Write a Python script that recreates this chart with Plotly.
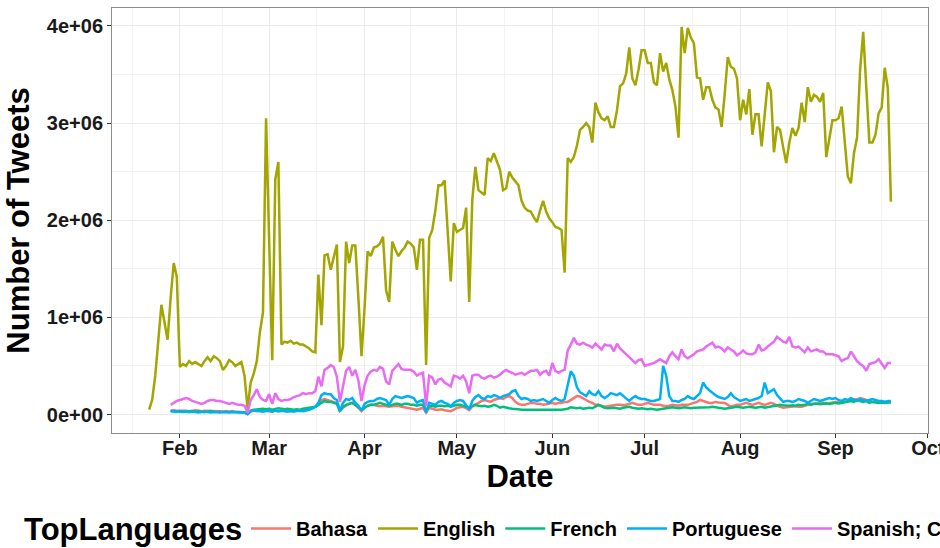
import numpy as np
import pandas as pd
import plotly.graph_objects as go

# Daily tweet counts, in millions of tweets
english_start = "2020-01-22"
english = [
    0.05, 0.15, 0.40, 0.75, 1.13, 0.95, 0.77, 1.20, 1.56, 1.42,
    0.49, 0.52, 0.50, 0.55, 0.52, 0.54, 0.52, 0.50, 0.55, 0.59,
    0.55, 0.60, 0.58, 0.55, 0.46, 0.50, 0.56, 0.54, 0.50, 0.52,
    0.54, 0.40, 0.06, 0.33, 0.42, 0.55, 0.85, 1.05, 3.05, 1.80,
    0.56, 2.42, 2.60, 0.72, 0.75, 0.74, 0.76, 0.73, 0.74, 0.72,
    0.72, 0.70, 0.68, 0.65, 0.64, 1.44, 0.92, 1.64, 1.65, 1.49,
    1.62, 1.75, 0.54, 0.70, 1.78, 1.56, 1.74, 1.74, 1.20, 0.60,
    1.10, 1.68, 1.63, 1.72, 1.73, 1.76, 1.83, 1.28, 1.16, 1.78,
    1.70, 1.63, 1.68, 1.72, 1.78, 1.76, 1.72, 1.49, 1.80, 1.80,
    0.51, 1.82, 1.90, 2.10, 2.36, 2.36, 2.41, 1.90, 1.37, 1.97,
    1.88, 1.90, 1.92, 2.13, 1.16, 2.21, 2.55, 2.31, 2.28, 2.26,
    2.64, 2.61, 2.69, 2.60, 2.52, 2.31, 2.33, 2.50, 2.44, 2.40,
    2.36, 2.20, 2.13, 2.10, 2.09, 2.03, 1.98, 2.10, 2.20, 2.09,
    2.02, 1.98, 1.93, 1.92, 1.90, 1.46, 2.64, 2.60, 2.65, 2.77,
    2.93, 2.96, 3.00, 2.96, 2.80, 3.21, 3.11, 3.05, 3.03, 3.07,
    2.96, 2.96, 3.13, 3.38, 3.41, 3.51, 3.78, 3.46, 3.39, 3.55,
    3.75, 3.75, 3.62, 3.62, 3.42, 3.39, 3.72, 3.53, 3.62, 3.45,
    3.34, 3.17, 2.85, 3.99, 3.72, 3.98, 3.88, 3.82, 3.47, 3.46,
    3.24, 3.37, 3.37, 3.24, 3.16, 3.14, 2.96, 3.30, 3.68, 3.58,
    3.56, 3.46, 3.03, 3.24, 3.09, 3.35, 2.88, 3.09, 3.09, 2.76,
    3.10, 3.42, 3.33, 2.70, 2.96, 2.93, 2.75, 2.59, 2.80, 2.95,
    2.87, 2.95, 3.21, 3.01, 3.37, 3.22, 3.29, 3.27, 3.22, 3.31,
    2.65, 2.86, 3.03, 3.03, 3.05, 3.17, 2.80, 2.45, 2.38, 2.69,
    2.85, 3.55, 3.94, 3.31, 2.80, 2.80, 2.88, 3.10, 3.16, 3.57,
    3.36, 2.19,
]

others_start = "2020-01-29"
spanish = [
    0.10, 0.12, 0.14, 0.15, 0.16, 0.17, 0.16, 0.14, 0.13, 0.12,
    0.11, 0.12, 0.14, 0.15, 0.15, 0.14, 0.14, 0.13, 0.12, 0.11,
    0.12, 0.11, 0.10, 0.10, 0.09, 0.02, 0.15, 0.20, 0.26, 0.18,
    0.15, 0.14, 0.21, 0.11, 0.22, 0.16, 0.14, 0.15, 0.15, 0.16,
    0.18, 0.19, 0.20, 0.22, 0.21, 0.22, 0.22, 0.24, 0.39, 0.29,
    0.46, 0.48, 0.51, 0.49, 0.39, 0.13, 0.30, 0.45, 0.49, 0.40,
    0.46, 0.35, 0.14, 0.30, 0.40, 0.44, 0.46, 0.45, 0.49, 0.47,
    0.34, 0.31, 0.45, 0.48, 0.52, 0.47, 0.46, 0.46, 0.46, 0.44,
    0.40, 0.42, 0.43, 0.09, 0.40, 0.38, 0.31, 0.36, 0.37, 0.33,
    0.31, 0.29, 0.40, 0.39, 0.37, 0.40, 0.34, 0.22, 0.40, 0.41,
    0.41, 0.38, 0.37, 0.39, 0.40, 0.38, 0.39, 0.41, 0.44, 0.46,
    0.44, 0.43, 0.41, 0.42, 0.43, 0.41, 0.43, 0.45, 0.45, 0.46,
    0.41, 0.44, 0.45, 0.40, 0.53, 0.45, 0.43, 0.45, 0.46, 0.66,
    0.72, 0.79, 0.73, 0.72, 0.74, 0.72, 0.71, 0.69, 0.73, 0.70,
    0.67, 0.72, 0.71, 0.71, 0.65, 0.73, 0.68, 0.65, 0.62, 0.58,
    0.55, 0.53, 0.56, 0.57, 0.50, 0.51, 0.52, 0.53, 0.55, 0.57,
    0.55, 0.53, 0.60, 0.64, 0.60, 0.57, 0.67, 0.60, 0.58, 0.60,
    0.62, 0.65, 0.66, 0.67, 0.70, 0.72, 0.74, 0.69, 0.70, 0.68,
    0.65, 0.69, 0.67, 0.65, 0.61, 0.63, 0.66, 0.63, 0.62, 0.62,
    0.64, 0.72, 0.66, 0.67, 0.70, 0.73, 0.75, 0.80, 0.77, 0.75,
    0.74, 0.80, 0.70, 0.69, 0.70, 0.67, 0.64, 0.69, 0.65, 0.66,
    0.67, 0.65, 0.65, 0.62, 0.62, 0.62, 0.61, 0.60, 0.55, 0.57,
    0.58, 0.65, 0.60, 0.55, 0.52, 0.50, 0.45, 0.52, 0.53, 0.54,
    0.57, 0.52, 0.48, 0.53, 0.53,
]

portuguese = [
    0.04, 0.035, 0.03, 0.03, 0.025, 0.03, 0.025, 0.03, 0.025, 0.02,
    0.025, 0.03, 0.025, 0.02, 0.025, 0.02, 0.02, 0.025, 0.02, 0.02,
    0.025, 0.02, 0.02, 0.02, 0.02, 0.005, 0.035, 0.045, 0.04, 0.035,
    0.03, 0.035, 0.04, 0.03, 0.04, 0.035, 0.04, 0.035, 0.03, 0.035,
    0.03, 0.035, 0.04, 0.035, 0.04, 0.05, 0.06, 0.08, 0.12, 0.20,
    0.22, 0.21, 0.21, 0.17, 0.15, 0.035, 0.12, 0.16, 0.15, 0.17,
    0.12, 0.09, 0.04, 0.11, 0.13, 0.14, 0.14, 0.16, 0.17, 0.16,
    0.15, 0.10, 0.16, 0.19, 0.18, 0.17, 0.18, 0.19, 0.18, 0.17,
    0.12, 0.14, 0.15, 0.02, 0.12, 0.11, 0.10, 0.13, 0.14, 0.12,
    0.11, 0.085, 0.12, 0.14, 0.15, 0.14, 0.10, 0.05, 0.14, 0.18,
    0.20, 0.17, 0.16, 0.19, 0.18, 0.20, 0.19, 0.17, 0.19, 0.20,
    0.21, 0.24, 0.25, 0.19, 0.16, 0.17, 0.16, 0.14, 0.15, 0.14,
    0.15, 0.16, 0.14, 0.12, 0.15, 0.17, 0.15, 0.14, 0.16, 0.29,
    0.445, 0.40, 0.28, 0.23, 0.21, 0.19, 0.24, 0.21, 0.20, 0.24,
    0.19, 0.17, 0.19, 0.22, 0.21, 0.20, 0.22, 0.19, 0.17, 0.14,
    0.17, 0.19, 0.17, 0.16, 0.16, 0.15, 0.14, 0.14, 0.15, 0.16,
    0.50, 0.40, 0.19, 0.14, 0.14, 0.13, 0.15, 0.16, 0.19, 0.17,
    0.16, 0.19, 0.22, 0.33, 0.28, 0.25, 0.22, 0.20, 0.18, 0.17,
    0.16, 0.18, 0.22, 0.18, 0.16, 0.14, 0.15, 0.16, 0.14, 0.15,
    0.16, 0.17, 0.19, 0.33, 0.22, 0.24, 0.26, 0.20, 0.17, 0.13,
    0.14, 0.14, 0.13, 0.14, 0.16, 0.15, 0.14, 0.12, 0.14, 0.16,
    0.15, 0.14, 0.15, 0.16, 0.17, 0.16, 0.17, 0.15, 0.14, 0.16,
    0.15, 0.17, 0.15, 0.14, 0.16, 0.15, 0.14, 0.15, 0.16, 0.15,
    0.14, 0.14, 0.13, 0.14, 0.14,
]

french = [
    0.035, 0.03, 0.03, 0.035, 0.03, 0.03, 0.035, 0.03, 0.03, 0.035,
    0.03, 0.025, 0.03, 0.035, 0.03, 0.03, 0.025, 0.03, 0.03, 0.025,
    0.03, 0.025, 0.025, 0.02, 0.02, 0.005, 0.04, 0.05, 0.055, 0.06,
    0.06, 0.055, 0.06, 0.05, 0.06, 0.065, 0.06, 0.055, 0.06, 0.055,
    0.05, 0.055, 0.05, 0.06, 0.065, 0.07, 0.07, 0.08, 0.10, 0.12,
    0.14, 0.13, 0.13, 0.12, 0.11, 0.035, 0.08, 0.10, 0.11, 0.12,
    0.10, 0.07, 0.05, 0.07, 0.09, 0.10, 0.10, 0.11, 0.12, 0.11,
    0.10, 0.09, 0.10, 0.11, 0.11, 0.10, 0.11, 0.11, 0.10, 0.10,
    0.09, 0.10, 0.10, 0.035, 0.085, 0.09, 0.08, 0.09, 0.09, 0.085,
    0.09, 0.08, 0.09, 0.10, 0.10, 0.09, 0.08, 0.07, 0.09, 0.10,
    0.09, 0.085, 0.09, 0.08, 0.085, 0.10, 0.09, 0.07, 0.08, 0.07,
    0.065, 0.06, 0.06, 0.055, 0.05, 0.05, 0.045, 0.05, 0.05, 0.045,
    0.05, 0.045, 0.045, 0.045, 0.05, 0.045, 0.05, 0.05, 0.055, 0.06,
    0.075, 0.07, 0.065, 0.07, 0.06, 0.065, 0.07, 0.065, 0.08, 0.10,
    0.085, 0.07, 0.065, 0.07, 0.07, 0.065, 0.06, 0.07, 0.075, 0.08,
    0.07, 0.065, 0.06, 0.065, 0.06, 0.055, 0.06, 0.055, 0.05, 0.055,
    0.06, 0.065, 0.07, 0.075, 0.07, 0.065, 0.07, 0.075, 0.07, 0.065,
    0.07, 0.07, 0.075, 0.07, 0.07, 0.075, 0.08, 0.075, 0.07, 0.065,
    0.06, 0.065, 0.07, 0.075, 0.08, 0.075, 0.07, 0.075, 0.08, 0.075,
    0.07, 0.075, 0.08, 0.07, 0.075, 0.08, 0.085, 0.09, 0.10, 0.095,
    0.09, 0.09, 0.095, 0.09, 0.10, 0.095, 0.10, 0.11, 0.10, 0.11,
    0.11, 0.105, 0.11, 0.115, 0.11, 0.115, 0.12, 0.115, 0.12, 0.125,
    0.13, 0.14, 0.13, 0.15, 0.14, 0.13, 0.14, 0.12, 0.13, 0.125,
    0.12, 0.125, 0.12, 0.125, 0.125,
]

bahasa = [
    0.04, 0.045, 0.04, 0.04, 0.045, 0.04, 0.035, 0.04, 0.045, 0.04,
    0.035, 0.04, 0.04, 0.035, 0.035, 0.04, 0.035, 0.03, 0.035, 0.03,
    0.035, 0.03, 0.03, 0.03, 0.025, 0.005, 0.03, 0.04, 0.035, 0.04,
    0.045, 0.04, 0.035, 0.03, 0.04, 0.035, 0.04, 0.045, 0.04, 0.035,
    0.04, 0.045, 0.04, 0.05, 0.055, 0.06, 0.07, 0.08, 0.11, 0.15,
    0.16, 0.15, 0.14, 0.13, 0.12, 0.035, 0.07, 0.09, 0.11, 0.12,
    0.10, 0.07, 0.035, 0.07, 0.09, 0.10, 0.10, 0.09, 0.085, 0.09,
    0.085, 0.08, 0.085, 0.09, 0.09, 0.08, 0.075, 0.07, 0.065, 0.06,
    0.05, 0.06, 0.07, 0.02, 0.07, 0.06, 0.05, 0.05, 0.055, 0.045,
    0.04, 0.035, 0.05, 0.07, 0.075, 0.08, 0.065, 0.045, 0.08, 0.10,
    0.12, 0.14, 0.15, 0.14, 0.13, 0.15, 0.16, 0.17, 0.16, 0.18,
    0.19, 0.17, 0.13, 0.11, 0.10, 0.10, 0.11, 0.12, 0.12, 0.11,
    0.11, 0.10, 0.105, 0.11, 0.12, 0.11, 0.12, 0.12, 0.13, 0.13,
    0.15, 0.17, 0.19, 0.185, 0.17, 0.15, 0.13, 0.12, 0.10, 0.10,
    0.09, 0.08, 0.085, 0.09, 0.10, 0.10, 0.10, 0.095, 0.10, 0.11,
    0.12, 0.11, 0.10, 0.10, 0.11, 0.12, 0.11, 0.10, 0.10, 0.10,
    0.09, 0.085, 0.09, 0.10, 0.095, 0.09, 0.10, 0.10, 0.10, 0.11,
    0.12, 0.13, 0.15, 0.14, 0.13, 0.12, 0.12, 0.13, 0.125, 0.12,
    0.12, 0.10, 0.08, 0.09, 0.10, 0.10, 0.11, 0.12, 0.11, 0.10,
    0.11, 0.12, 0.11, 0.10, 0.11, 0.12, 0.11, 0.09, 0.08, 0.07,
    0.075, 0.08, 0.08, 0.085, 0.08, 0.08, 0.09, 0.10, 0.11, 0.11,
    0.115, 0.12, 0.12, 0.11, 0.12, 0.125, 0.13, 0.13, 0.14, 0.13,
    0.14, 0.15, 0.16, 0.155, 0.17, 0.16, 0.15, 0.14, 0.13, 0.135,
    0.13, 0.14, 0.13, 0.13, 0.13,
]

languages = ["Bahasa", "English", "French", "Portuguese", "Spanish; Castilian"]
colors = ["#F8766D", "#A3A500", "#00BF7D", "#00B0F6", "#E76BF3"]
series = {
    "Bahasa": (others_start, bahasa),
    "English": (english_start, english),
    "French": (others_start, french),
    "Portuguese": (others_start, portuguese),
    "Spanish; Castilian": (others_start, spanish),
}

month_ticks = ["2020-02-01", "2020-03-01", "2020-04-01", "2020-05-01", "2020-06-01",
               "2020-07-01", "2020-08-01", "2020-09-01", "2020-10-01"]
month_labels = ["Feb", "Mar", "Apr", "May", "Jun", "Jul", "Aug", "Sep", "Oct"]
month_minor = ["2020-01-16 12:00", "2020-02-15", "2020-03-16 12:00", "2020-04-16",
               "2020-05-16 12:00", "2020-06-16", "2020-07-16 12:00", "2020-08-16 12:00",
               "2020-09-16"]
y_ticks = [0, 1e6, 2e6, 3e6, 4e6]
y_labels = ["0e+00", "1e+06", "2e+06", "3e+06", "4e+06"]
y_minor = [0.5e6, 1.5e6, 2.5e6, 3.5e6]

FONT = "Liberation Sans, Arial, Helvetica, sans-serif"
TITLE_FONT = dict(family=FONT, size=31, color="black", weight="bold")

fig = go.Figure()
for name, color in zip(languages, colors):
    start, vals = series[name]
    dates = pd.date_range(start, periods=len(vals), freq="D")
    fig.add_trace(go.Scatter(
        x=dates, y=np.asarray(vals) * 1e6, name=name, mode="lines",
        line=dict(color=color, width=2.5),
    ))

axis_common = dict(
    showline=True, linecolor="#8c8c8c", linewidth=1, mirror=True,
    showgrid=True, gridcolor="#EBEBEB", gridwidth=1.1,
    ticks="outside", ticklen=4, tickwidth=1, tickcolor="#333333",
    tickfont=dict(family=FONT, size=20, color="#1a1a1a", weight="bold"),
    zeroline=False,
)

fig.update_xaxes(
    type="date",
    range=["2020-01-09 22:48", "2020-10-01 01:12"],
    tickmode="array", tickvals=month_ticks, ticktext=month_labels,
    ticklabeloverflow="allow", ticklabelstandoff=-7,
    minor=dict(tickmode="array", tickvals=month_minor, showgrid=True,
               gridcolor="#F2F2F2", gridwidth=0.6, ticks=""),
    title=dict(text="Date", font=TITLE_FONT, standoff=3),
    **axis_common,
)
fig.update_yaxes(
    range=[-0.19e6, 4.185e6],
    tickmode="array", tickvals=y_ticks, ticktext=y_labels,
    minor=dict(tickmode="array", tickvals=y_minor, showgrid=True,
               gridcolor="#F2F2F2", gridwidth=0.6, ticks=""),
    title=dict(text="Number of Tweets", font=TITLE_FONT, standoff=7),
    **axis_common,
)

fig.update_layout(
    width=940, height=548,
    margin=dict(l=112, r=12, t=8, b=115, autoexpand=False),
    paper_bgcolor="white", plot_bgcolor="white",
    font=dict(family=FONT, color="black"),
    legend=dict(
        orientation="h", x=0.1642, xanchor="left", y=-0.179, yanchor="top",
        font=dict(family=FONT, size=20, color="black", weight="bold"),
        itemwidth=40, bgcolor="rgba(0,0,0,0)",
    ),
    showlegend=True,
    annotations=[dict(
        text="TopLanguages", xref="paper", yref="paper",
        x=-0.1103, xanchor="left", y=-0.228, yanchor="middle",
        showarrow=False, font=TITLE_FONT,
    )],
)

fig.write_html("out.html")
